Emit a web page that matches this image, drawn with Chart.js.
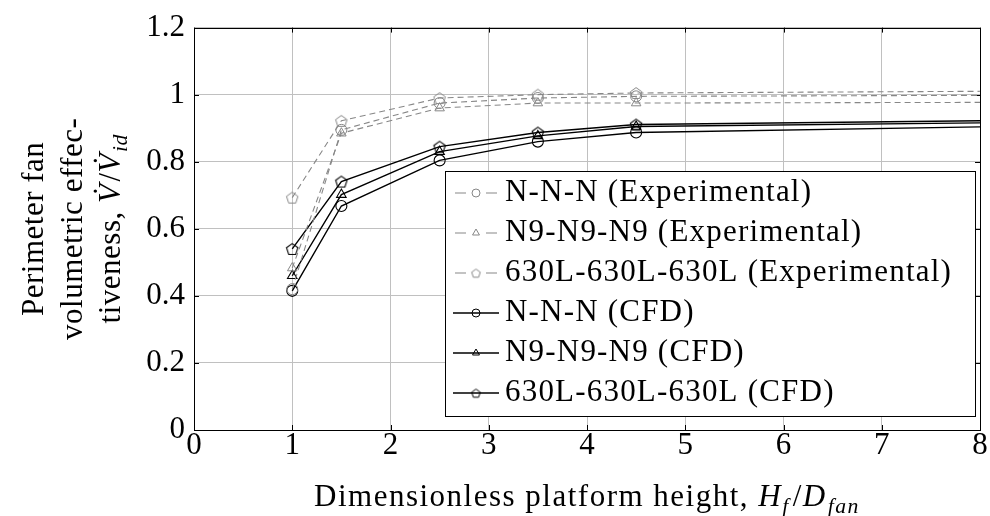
<!DOCTYPE html>
<html>
<head>
<meta charset="utf-8">
<script src="https://cdn.jsdelivr.net/npm/chart.js@4/dist/chart.umd.min.js"></script>
<style>
  html, body { margin: 0; padding: 0; background: #ffffff; }
  #wrap { width: 990px; height: 516px; }
</style>
</head>
<body>
<div id="wrap"><canvas id="chart" width="990" height="516"></canvas></div>
<script>
// Dimensionless platform height H_f / D_fan
const heights = [1, 1.5, 2.5, 3.5, 4.5, 8];

// Experimental volumetric effectiveness
const expNNN = [0.42, 0.895, 0.975, 0.99, 0.995, 0.998];
const expN9 = [0.483, 0.885, 0.96, 0.975, 0.975, 0.977];
const exp630L = [0.693, 0.922, 0.99, 1.0, 1.005, 1.01];

// CFD volumetric effectiveness
const cfdNNN = [0.415, 0.668, 0.804, 0.86, 0.887, 0.904];
const cfdN9 = [0.46, 0.702, 0.83, 0.877, 0.905, 0.916];
const cfd630L = [0.54, 0.741, 0.845, 0.887, 0.911, 0.922];

// Only the measured heights carry a marker; the last entry is the line's far end
const markedCount = 5;

const xTicks = [0, 1, 2, 3, 4, 5, 6, 7, 8];
const yTicks = [0, 0.2, 0.4, 0.6, 0.8, 1, 1.2];

const seriesLabels = [
  'N-N-N (Experimental)',
  'N9-N9-N9 (Experimental)',
  '630L-630L-630L (Experimental)',
  'N-N-N (CFD)',
  'N9-N9-N9 (CFD)',
  '630L-630L-630L (CFD)'
];

const FONT = '"Liberation Serif", "Times New Roman", serif';
const FONT_SIZE = 31;
const GREY = 'rgb(135,135,135)';
const BLACK = '#000000';
const DASH = [6, 4];

// Open pentagon marker drawn on a small canvas
function pentagonMarker(color, r, lw) {
  const s = Math.ceil(2 * r + 4);
  const c = document.createElement('canvas');
  c.width = s; c.height = s;
  const g = c.getContext('2d');
  g.strokeStyle = color;
  g.lineWidth = lw;
  g.beginPath();
  for (let k = 0; k < 5; k++) {
    const a = -Math.PI / 2 + k * 2 * Math.PI / 5;
    const px = s / 2 + r * Math.cos(a);
    const py = s / 2 + 0.6 + r * Math.sin(a);
    if (k === 0) g.moveTo(px, py); else g.lineTo(px, py);
  }
  g.closePath();
  g.stroke();
  return c;
}

const pentGrey = pentagonMarker(GREY, 6, 1);
const pentBlack = pentagonMarker(BLACK, 6, 1.1);
const pentGreySmall = pentagonMarker(GREY, 4.5, 1);
const pentBlackSmall = pentagonMarker(BLACK, 4.5, 1);

function points(ys) {
  return heights.map((x, i) => ({ x: x, y: ys[i] }));
}

function series(label, ys, color, dashed, style, legendStyle) {
  return {
    label: label,
    data: points(ys),
    borderColor: color,
    backgroundColor: 'rgba(0,0,0,0)',
    borderWidth: dashed ? 1.1 : 1.4,
    borderDash: dashed ? DASH : [],
    pointStyle: style,
    pointBorderColor: color,
    pointBackgroundColor: 'rgba(0,0,0,0)',
    pointBorderWidth: dashed ? 1 : 1.1,
    pointRadius: ctx => (ctx.dataIndex < markedCount ? 5.5 : 0),
    pointHoverRadius: 0,
    tension: 0,
    legendStyle: legendStyle,
    dashed: dashed
  };
}

const datasets = [
  series(seriesLabels[0], expNNN, GREY, true, 'circle', 'circle'),
  series(seriesLabels[1], expN9, GREY, true, 'triangle', 'triangle'),
  series(seriesLabels[2], exp630L, GREY, true, pentGrey, pentGreySmall),
  series(seriesLabels[3], cfdNNN, BLACK, false, 'circle', 'circle'),
  series(seriesLabels[4], cfdN9, BLACK, false, 'triangle', 'triangle'),
  series(seriesLabels[5], cfd630L, BLACK, false, pentBlack, pentBlackSmall)
];

// Draw a run of text pieces (roman / italic / subscript), centred on (cx, y)
function richText(ctx, parts, cx, y, size, spacing) {
  const fontFor = p => {
    const s = p.sub ? size * 0.7 : size;
    return (p.italic ? 'italic ' : '') + s + 'px ' + FONT;
  };
  ctx.letterSpacing = (spacing || 0) + 'px';
  let total = 0;
  parts.forEach(p => {
    ctx.font = fontFor(p);
    p.w = ctx.measureText(p.t).width + (p.gap || 0);
    total += p.w;
  });
  let x = cx - total / 2;
  ctx.textAlign = 'left';
  ctx.textBaseline = 'alphabetic';
  parts.forEach(p => {
    ctx.font = fontFor(p);
    ctx.fillText(p.t, x, y + (p.sub ? size * 0.22 : 0));
    x += p.w;
  });
  ctx.letterSpacing = '0px';
}

const framePlugin = {
  id: 'frame',
  beforeDatasetsDraw(chart) {
    const { ctx, chartArea: a, scales } = chart;
    ctx.save();
    ctx.strokeStyle = BLACK;
    ctx.lineWidth = 1;
    // inward tick marks on all four sides
    const t = 5;
    ctx.beginPath();
    xTicks.forEach(v => {
      const px = Math.round(scales.x.getPixelForValue(v)) + 0.5;
      ctx.moveTo(px, a.bottom); ctx.lineTo(px, a.bottom - t);
      ctx.moveTo(px, a.top); ctx.lineTo(px, a.top + t);
    });
    yTicks.forEach(v => {
      const py = Math.round(scales.y.getPixelForValue(v)) + 0.5;
      ctx.moveTo(a.left, py); ctx.lineTo(a.left + t, py);
      ctx.moveTo(a.right, py); ctx.lineTo(a.right - t, py);
    });
    ctx.stroke();
    ctx.strokeRect(Math.round(a.left) + 0.5, Math.round(a.top) + 0.5,
      Math.round(a.right - a.left), Math.round(a.bottom - a.top));
    ctx.restore();
  },
  afterDraw(chart) {
    const { ctx, chartArea: a } = chart;
    ctx.save();
    ctx.fillStyle = BLACK;

    // x-axis title
    richText(ctx, [
      { t: 'Dimensionless platform height, ' },
      { t: 'H', italic: true },
      { t: 'f', italic: true, sub: true, gap: 3 },
      { t: '/' },
      { t: 'D', italic: true, gap: 1 },
      { t: 'fan', italic: true, sub: true }
    ], (a.left + a.right) / 2, 506, FONT_SIZE, 1.5);

    // y-axis title, three rotated lines
    const cy = (a.top + a.bottom) / 2;
    const lines = [
      { base: 43, parts: [{ t: 'Perimeter fan' }] },
      { base: 82, parts: [{ t: 'volumetric effec-' }] },
      { base: 120, parts: [
        { t: 'tiveness, ' },
        { t: 'V\u0307', italic: true, gap: 2 },
        { t: '/' },
        { t: 'V\u0307', italic: true, gap: 1 },
        { t: 'id', italic: true, sub: true }
      ] }
    ];
    lines.forEach(l => {
      ctx.save();
      ctx.translate(l.base, cy);
      ctx.rotate(-Math.PI / 2);
      richText(ctx, l.parts, 0, 0, FONT_SIZE, 0.5);
      ctx.restore();
    });

    // legend box
    const box = { x: 445, y: 171, w: 530, h: 245 };
    ctx.fillStyle = '#ffffff';
    ctx.fillRect(box.x, box.y, box.w, box.h);
    ctx.strokeStyle = BLACK;
    ctx.lineWidth = 1;
    ctx.strokeRect(box.x + 0.5, box.y + 0.5, box.w, box.h);
    chart.data.datasets.forEach((ds, i) => {
      const y = box.y + 22 + i * 40;
      ctx.save();
      ctx.strokeStyle = ds.borderColor;
      ctx.fillStyle = 'rgba(0,0,0,0)';
      ctx.lineWidth = ds.borderWidth;
      ctx.beginPath();
      if (ds.dashed) {
        ctx.moveTo(455, y); ctx.lineTo(466, y);
        ctx.moveTo(486, y); ctx.lineTo(497, y);
      } else {
        ctx.moveTo(453, y); ctx.lineTo(499, y);
      }
      ctx.stroke();
      ctx.lineWidth = 1;
      Chart.helpers.drawPoint(ctx, {
        pointStyle: ds.legendStyle, rotation: 0, radius: 4, borderWidth: 1
      }, 476, y);
      ctx.restore();
      ctx.fillStyle = BLACK;
      ctx.font = FONT_SIZE + 'px ' + FONT;
      ctx.letterSpacing = '1.2px';
      ctx.textAlign = 'left';
      ctx.textBaseline = 'middle';
      ctx.fillText(ds.label, 505, y);
      ctx.letterSpacing = '0px';
    });
    ctx.restore();
  }
};

new Chart(document.getElementById('chart'), {
  type: 'line',
  data: { datasets: datasets },
  plugins: [framePlugin],
  options: {
    responsive: false,
    animation: false,
    events: [],
    layout: { padding: { top: 20, right: 10, left: 0, bottom: 0 } },
    plugins: {
      legend: { display: false },
      tooltip: { enabled: false },
      title: { display: false }
    },
    scales: {
      x: {
        type: 'linear',
        min: 0, max: 8,
        afterBuildTicks: s => { s.ticks = xTicks.map(v => ({ value: v })); },
        afterFit: s => { s.height = 86; },
        grid: { color: 'rgb(192,192,192)', lineWidth: 1, drawTicks: false },
        border: { display: false },
        ticks: {
          color: BLACK,
          font: { family: FONT, size: FONT_SIZE },
          padding: -3,
          maxRotation: 0,
          callback: v => String(v)
        }
      },
      y: {
        type: 'linear',
        min: 0, max: 1.2,
        afterBuildTicks: s => { s.ticks = yTicks.map(v => ({ value: v })); },
        afterFit: s => { s.width = 194; },
        grid: { color: 'rgb(192,192,192)', lineWidth: 1, drawTicks: false },
        border: { display: false },
        ticks: {
          color: BLACK,
          font: { family: FONT, size: FONT_SIZE },
          padding: 9,
          callback: v => String(Math.round(v * 10) / 10)
        }
      }
    }
  }
});
</script>
</body>
</html>
